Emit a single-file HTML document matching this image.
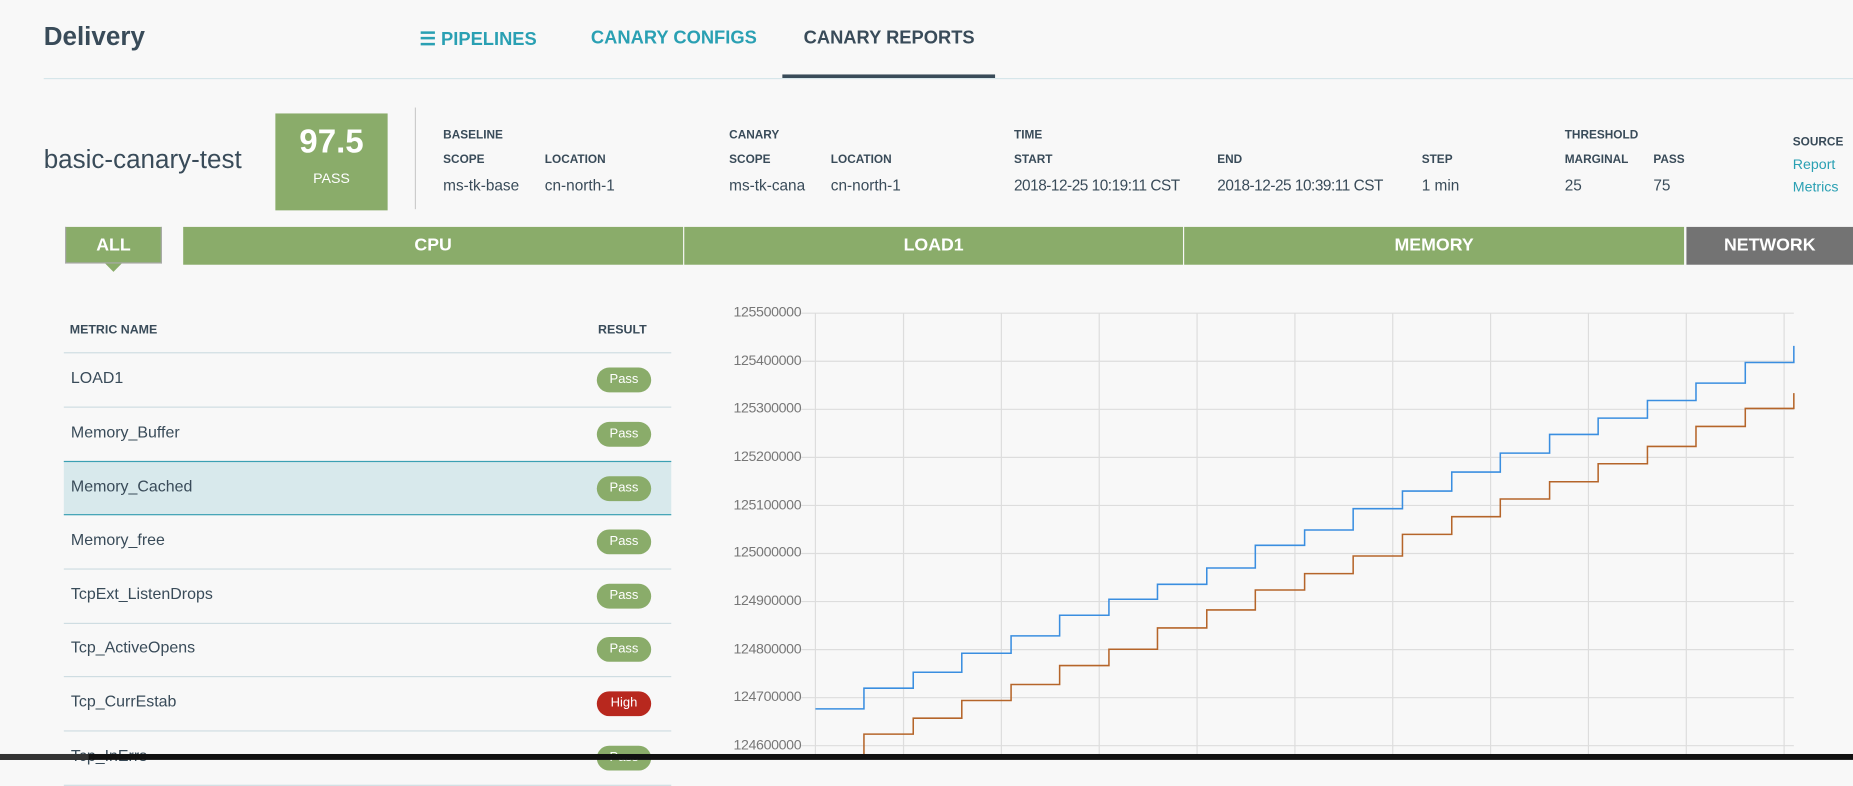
<!DOCTYPE html>
<html><head><meta charset="utf-8"><style>
html,body{margin:0;padding:0;}
body{width:1853px;height:760px;overflow:hidden;background:#f8f8f8;font-family:"Liberation Sans",sans-serif;}
#s{position:absolute;left:0;top:0;width:1568px;height:643px;transform:scale(1.1818);transform-origin:0 0;color:#394b59;}
.a{position:absolute;white-space:nowrap;}
.lb{font-size:10px;font-weight:bold;color:#394b59;}
.v{font-size:13px;color:#394b59;}
.tab{position:absolute;top:192px;height:32px;background:#8aac6a;color:#fff;font-weight:bold;font-size:15px;line-height:32px;text-align:center;}
.row{position:absolute;left:54px;width:514px;height:45px;border-bottom:1px solid #cfdde2;}
.row span{position:absolute;left:6px;top:13px;font-size:13.5px;color:#394b59;}
.pill{position:absolute;left:451px;top:12px;width:46px;height:21px;border-radius:11px;background:#8aac6a;color:#fff;font-size:11px;line-height:21px;text-align:center;}
.yl{position:absolute;right:890px;font-size:12px;color:#777;letter-spacing:-0.3px;}
</style></head><body><div id="s">
<div class="a" style="left:37px;top:18px;font-size:22px;font-weight:bold;">Delivery</div>
<div class="a" style="left:355px;top:24px;font-size:15.5px;font-weight:bold;color:#2aa0b3;">☰ PIPELINES</div>
<div class="a" style="left:500px;top:24px;font-size:15.5px;font-weight:bold;color:#2aa0b3;">CANARY CONFIGS</div>
<div class="a" style="left:680px;top:24px;font-size:15.5px;font-weight:bold;color:#394b59;">CANARY REPORTS</div>
<div class="a" style="left:37px;top:66px;width:1531px;height:1px;background:#d6e6ea;"></div>
<div class="a" style="left:662px;top:63px;width:180px;height:3px;background:#394b59;"></div>

<div class="a" style="left:37px;top:122px;font-size:22px;">basic-canary-test</div>
<div class="a" style="left:233px;top:96px;width:95px;height:82px;background:#8aac6a;color:#fff;text-align:center;">
<div style="font-size:28px;font-weight:bold;margin-top:8px;">97.5</div>
<div style="font-size:12px;margin-top:8px;">PASS</div></div>
<div class="a" style="left:351px;top:91px;width:1px;height:86px;background:#ccc;"></div>

<div class="a lb" style="left:375px;top:109px;">BASELINE</div>
<div class="a lb" style="left:375px;top:130px;">SCOPE</div>
<div class="a lb" style="left:461px;top:130px;">LOCATION</div>
<div class="a v" style="left:375px;top:149px;">ms-tk-base</div>
<div class="a v" style="left:461px;top:149px;">cn-north-1</div>
<div class="a lb" style="left:617px;top:109px;">CANARY</div>
<div class="a lb" style="left:617px;top:130px;">SCOPE</div>
<div class="a lb" style="left:703px;top:130px;">LOCATION</div>
<div class="a v" style="left:617px;top:149px;">ms-tk-cana</div>
<div class="a v" style="left:703px;top:149px;">cn-north-1</div>
<div class="a lb" style="left:858px;top:109px;">TIME</div>
<div class="a lb" style="left:858px;top:130px;">START</div>
<div class="a lb" style="left:1030px;top:130px;">END</div>
<div class="a lb" style="left:1203px;top:130px;">STEP</div>
<div class="a v" style="left:858px;top:149px;letter-spacing:-0.4px;">2018-12-25 10:19:11 CST</div>
<div class="a v" style="left:1030px;top:149px;letter-spacing:-0.4px;">2018-12-25 10:39:11 CST</div>
<div class="a v" style="left:1203px;top:149px;">1 min</div>
<div class="a lb" style="left:1324px;top:109px;">THRESHOLD</div>
<div class="a lb" style="left:1324px;top:130px;">MARGINAL</div>
<div class="a lb" style="left:1399px;top:130px;">PASS</div>
<div class="a v" style="left:1324px;top:149px;">25</div>
<div class="a v" style="left:1399px;top:149px;">75</div>
<div class="a lb" style="left:1517px;top:115px;">SOURCE</div>
<div class="a" style="left:1517px;top:132px;font-size:12px;color:#2aa0b3;">Report</div>
<div class="a" style="left:1517px;top:151px;font-size:12px;color:#2aa0b3;">Metrics</div>

<div class="tab" style="left:55px;width:82px;height:31px;border:1px solid #aaa;border-top:none;box-sizing:border-box;">ALL</div>
<div class="a" style="left:89px;top:223px;width:0;height:0;border-left:7px solid transparent;border-right:7px solid transparent;border-top:7px solid #8aac6a;"></div>
<div class="tab" style="left:155px;width:423px;">CPU</div>
<div class="tab" style="left:579px;width:422px;">LOAD1</div>
<div class="tab" style="left:1002px;width:423px;">MEMORY</div>
<div class="tab" style="left:1427px;width:141px;background:#737373;">NETWORK</div>

<div class="a lb" style="left:59px;top:273px;font-size:10.5px;">METRIC NAME</div>
<div class="a lb" style="left:506px;top:273px;font-size:10.5px;">RESULT</div>
<div class="row" style="top:253px;"></div>
<div class="row" style="top:299px;"><span>LOAD1</span><div class="pill">Pass</div></div>
<div class="row" style="top:345px;"><span>Memory_Buffer</span><div class="pill">Pass</div></div>
<div class="row" style="top:390px;background:#d8e9ec;border-top:1px solid #3ba0b3;border-bottom:1px solid #3ba0b3;height:44px;"><span>Memory_Cached</span><div class="pill">Pass</div></div>
<div class="row" style="top:436px;"><span>Memory_free</span><div class="pill">Pass</div></div>
<div class="row" style="top:482px;"><span>TcpExt_ListenDrops</span><div class="pill">Pass</div></div>
<div class="row" style="top:527px;"><span>Tcp_ActiveOpens</span><div class="pill">Pass</div></div>
<div class="row" style="top:573px;"><span>Tcp_CurrEstab</span><div class="pill" style="background:#b8281e;">High</div></div>
<div class="row" style="top:619px;"><span>Tcp_InErrs</span><div class="pill">Pass</div></div>

<div class="yl" style="top:257px;">125500000</div>
<div class="yl" style="top:298px;">125400000</div>
<div class="yl" style="top:338px;">125300000</div>
<div class="yl" style="top:379px;">125200000</div>
<div class="yl" style="top:420px;">125100000</div>
<div class="yl" style="top:460px;">125000000</div>
<div class="yl" style="top:501px;">124900000</div>
<div class="yl" style="top:542px;">124800000</div>
<div class="yl" style="top:582px;">124700000</div>
<div class="yl" style="top:623px;">124600000</div>

<svg class="a" style="left:0;top:0;" width="1568" height="638" viewBox="0 0 1568 638">
<g transform="translate(576.2,245.3) scale(0.632,0.2818)" fill="none">
<g stroke="#ddd" stroke-width="1">
<path vector-effect="non-scaling-stroke" d="M161 70H1490M161 214.3H1490M161 358.6H1490M161 502.9H1490M161 647.2H1490M161 791.5H1490M161 935.8H1490M161 1080.1H1490M161 1224.4H1490M161 1368.7H1490"/>
<path vector-effect="non-scaling-stroke" d="M180 70V1400M298 70V1400M429 70V1400M560 70V1400M691 70V1400M822 70V1400M953 70V1400M1084 70V1400M1215 70V1400M1346 70V1400M1477 70V1400"/>
</g>
<path vector-effect="non-scaling-stroke" stroke="#3a8ee0" stroke-width="1.3" d="M180 1258H245V1196H311V1148H376V1091H442V1039H507V977H573V929H638V884H704V835H769V767H835V721H900V657H966V604H1032V547H1097V490H1163V434H1228V385H1294V332H1359V280H1425V218H1490V168"/>
<path vector-effect="non-scaling-stroke" stroke="#b5652a" stroke-width="1.3" d="M245 1400V1334H311V1286H376V1233H442V1185H507V1128H573V1079H638V1015H704V961H769V901H835V852H900V799H966V734H1032V681H1097V628H1163V576H1228V522H1294V470H1359V410H1425V356H1490V310"/>
</g></svg>
<div class="a" style="left:0;top:638px;width:1568px;height:5px;background:#111;"></div>
<div class="a" style="left:0;top:638px;width:75px;height:5px;background:#333;"></div>
</div></body></html>
